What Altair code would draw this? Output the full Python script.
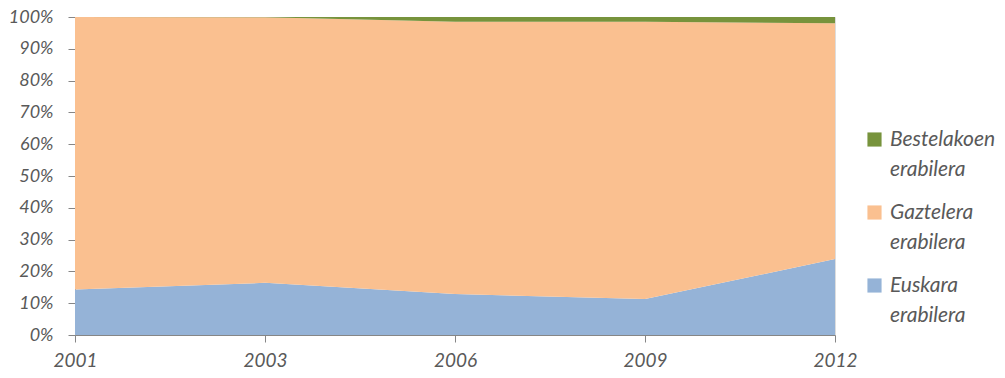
import altair as alt
import pandas as pd

years = ["2001", "2003", "2006", "2009", "2012"]
euskara = [14.3, 16.4, 12.9, 11.3, 23.9]
bestelakoen = [0.0, 0.1, 1.5, 1.5, 2.0]
gaztelera = [round(100 - e - b, 2) for e, b in zip(euskara, bestelakoen)]

series = ["Bestelakoen erabilera", "Gaztelera erabilera", "Euskara erabilera"]
colors = ["#77933C", "#FAC090", "#95B3D7"]
stack_order = {"Euskara erabilera": 0, "Gaztelera erabilera": 1, "Bestelakoen erabilera": 2}

rows = []
for i, y in enumerate(years):
    for name, vals in [("Euskara erabilera", euskara), ("Gaztelera erabilera", gaztelera),
                       ("Bestelakoen erabilera", bestelakoen)]:
        rows.append({"year": y, "serie": name, "value": vals[i], "ord": stack_order[name]})
df = pd.DataFrame(rows)

font = "Lato"
gray = "#595959"
axis_gray = "#868686"

chart = alt.Chart(df).mark_area(opacity=1).encode(
    x=alt.X("year:O", sort=years, scale=alt.Scale(padding=0),
            axis=alt.Axis(title=None, labelAngle=0, labelFont=font, labelFontSize=19,
                          labelFontStyle="italic", labelColor=gray, domainColor=axis_gray,
                          tickColor=axis_gray, tickSize=7, labelPadding=9)),
    y=alt.Y("value:Q", stack="normalize",
            scale=alt.Scale(domain=[0, 1], nice=False),
            axis=alt.Axis(title=None, format=".0%", values=[i / 10 for i in range(11)],
                          grid=False, labelFont=font, labelFontSize=18,
                          labelFontStyle="italic", labelColor=gray, domainColor=axis_gray,
                          tickColor=axis_gray, tickSize=7, labelPadding=15)),
    color=alt.Color("serie:N", sort=series,
                    scale=alt.Scale(domain=series, range=colors),
                    legend=alt.Legend(title=None, orient="none", legendX=789, legendY=112,
                                      labelExpr="split(datum.label, ' ')",
                                      labelFont=font, labelFontSize=21, labelFontStyle="italic",
                                      labelColor=gray, symbolType="square", symbolSize=200,
                                      rowPadding=21, labelLimit=200, labelOffset=5)),
    order=alt.Order("ord:Q"),
).properties(
    width=760, height=318,
    autosize=alt.AutoSizeParams(type="none"),
    padding={"left": 67, "top": 9, "right": 162, "bottom": 35},
).configure_view(stroke=None).configure(
    background="white",
    style={"guide-label": {"lineHeight": 30}},
)

chart.save("out.html", embed_options={"renderer": "svg", "actions": False})
